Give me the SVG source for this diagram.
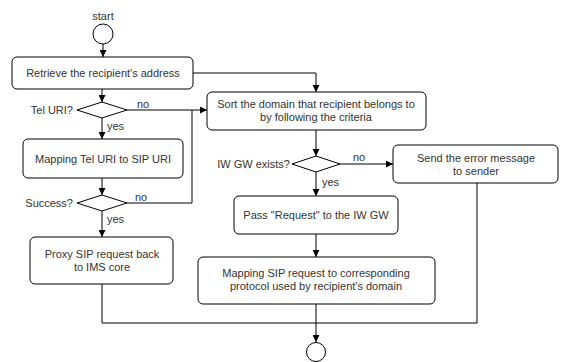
<svg xmlns="http://www.w3.org/2000/svg" width="561" height="362" viewBox="0 0 561 362">
<defs>
<marker id="arr" viewBox="0 0 10 10" refX="10" refY="5" markerWidth="7" markerHeight="7" markerUnits="userSpaceOnUse" orient="auto">
<path d="M0,0 L10,5 L0,10 z" fill="#000"/>
</marker>
<style>
.n{fill:#fff;stroke:#000;stroke-width:1}
.t{font-family:"Liberation Sans",Arial,sans-serif;font-size:11px;fill:#333;text-anchor:middle}
.l{font-family:"Liberation Sans",Arial,sans-serif;font-size:11px;fill:#333}
.c{fill:none;stroke:#000;stroke-width:1}
.a{marker-end:url(#arr)}
</style>
</defs>
<rect width="561" height="362" fill="#fff"/>
<g id="connectors">
<path class="c a" d="M103,44 V57"/>
<path class="c a" d="M193,73 H316 V92"/>
<path class="c a" d="M102,89 V102"/>
<path class="c a" d="M127,110 H207"/>
<path class="c a" d="M102,118 V139"/>
<path class="c a" d="M102,178 V195"/>
<path class="c" d="M127,203 H192 V110"/>
<path class="c a" d="M102,211 V237"/>
<path class="c a" d="M316,130 V156"/>
<path class="c a" d="M340,164 H393"/>
<path class="c a" d="M316,172 V196"/>
<path class="c a" d="M316,234 V257"/>
<path class="c a" d="M316,304 V342"/>
<path class="c" d="M102,284 V323 H477 V183"/>
<text class="l" x="137" y="108">no</text>
<text class="l" x="107" y="130">yes</text>
<text class="l" x="135" y="201">no</text>
<text class="l" x="107" y="223">yes</text>
<text class="l" x="353" y="161">no</text>
<text class="l" x="322" y="186">yes</text>
</g>
<g id="start">
<text class="t" x="103" y="20">start</text>
<circle class="n" cx="103" cy="34" r="10"/>
</g>
<g id="retrieve">
<rect class="n" x="12" y="57" width="181" height="32" rx="5"/>
<text class="t" x="103" y="77">Retrieve the recipient's address</text>
</g>
<g id="telUri">
<path class="n" d="M77,110 L102,102 L127,110 L102,118 z"/>
<text class="l" x="73" y="114" text-anchor="end">Tel URI?</text>
</g>
<g id="mapTel">
<rect class="n" x="23" y="139" width="160" height="39" rx="5"/>
<text class="t" x="103" y="163">Mapping Tel URI to SIP URI</text>
</g>
<g id="success">
<path class="n" d="M77,203 L102,195 L127,203 L102,211 z"/>
<text class="l" x="73" y="207" text-anchor="end">Success?</text>
</g>
<g id="proxy">
<rect class="n" x="30" y="237" width="143" height="47" rx="5"/>
<text class="t" x="102" y="258">Proxy SIP request back</text>
<text class="t" x="102" y="271">to IMS core</text>
</g>
<g id="sort">
<rect class="n" x="207" y="92" width="219" height="38" rx="5"/>
<text class="t" x="316" y="108">Sort the domain that recipient belongs to</text>
<text class="t" x="316" y="121">by following the criteria</text>
</g>
<g id="iwgw">
<path class="n" d="M292,164 L316,156 L340,164 L316,172 z"/>
<text class="l" x="290" y="168" text-anchor="end">IW GW exists?</text>
</g>
<g id="send">
<rect class="n" x="393" y="145" width="165" height="38" rx="5"/>
<text class="t" x="476" y="162">Send the error message</text>
<text class="t" x="476" y="175">to sender</text>
</g>
<g id="pass">
<rect class="n" x="234" y="196" width="164" height="38" rx="5"/>
<text class="t" x="316" y="219">Pass "Request" to the IW GW</text>
</g>
<g id="mapSip">
<rect class="n" x="198" y="257" width="237" height="47" rx="5"/>
<text class="t" x="316" y="277">Mapping SIP request to corresponding</text>
<text class="t" x="316" y="290">protocol used by recipient's domain</text>
</g>
<g id="end">
<circle class="n" cx="316" cy="352" r="9.5"/>
</g>
</svg>
